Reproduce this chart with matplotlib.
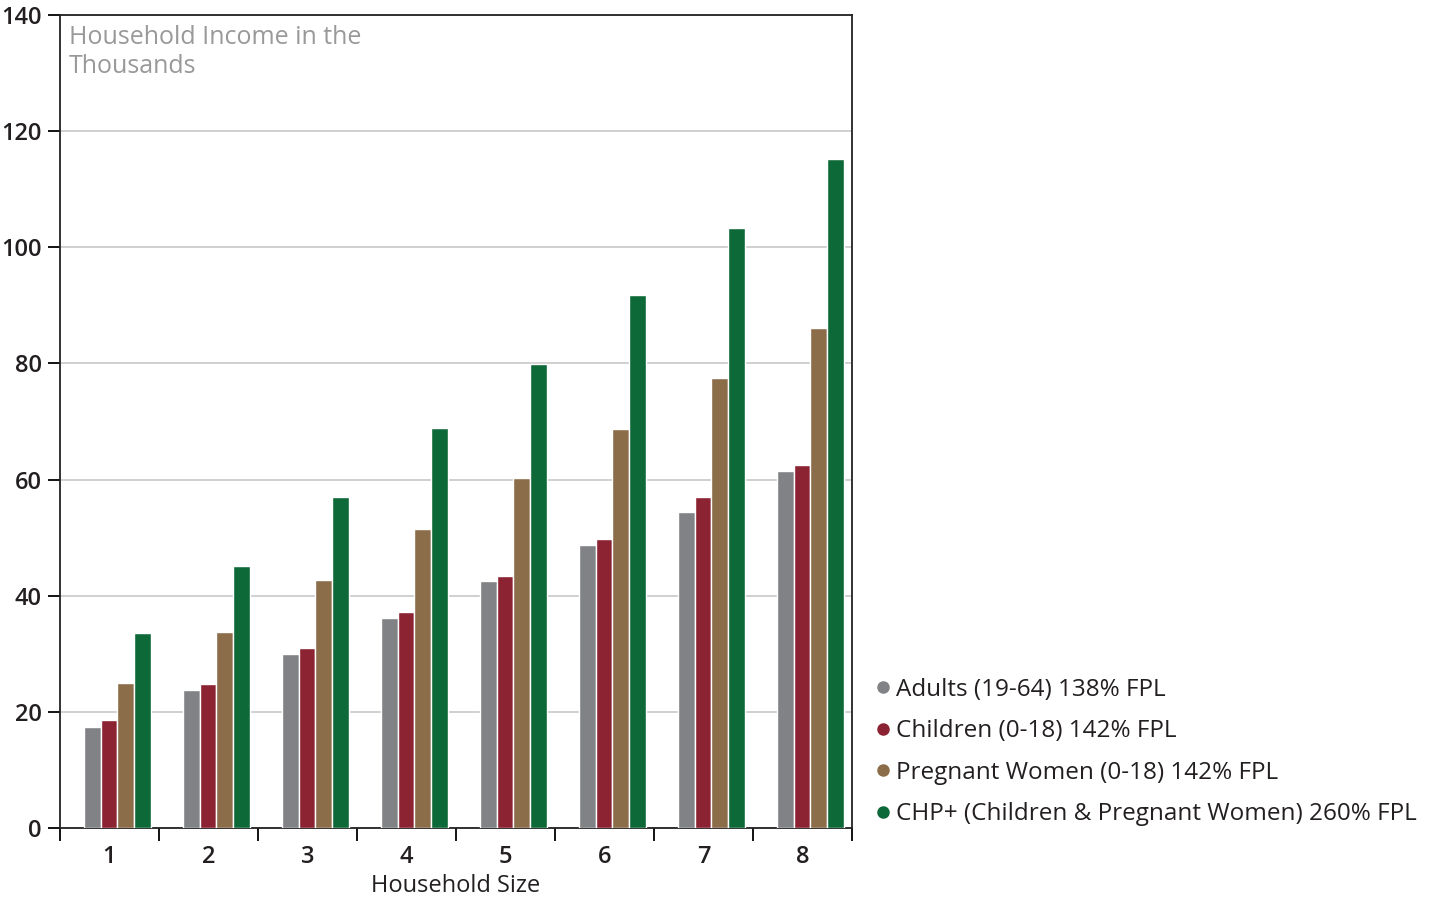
import matplotlib.pyplot as plt
import numpy as np
from matplotlib.lines import Line2D

plt.rcParams['font.family'] = ['Open Sans', 'DejaVu Sans']

household_size = ['1', '2', '3', '4', '5', '6', '7', '8']
series_names = ['Adults (19-64) 138% FPL',
                'Children (0-18) 142% FPL',
                'Pregnant Women (0-18) 142% FPL',
                'CHP+ (Children & Pregnant Women) 260% FPL']
adults = [17.4, 23.8, 30.0, 36.2, 42.5, 48.7, 54.4, 61.5]
children = [18.6, 24.8, 31.0, 37.2, 43.4, 49.8, 57.0, 62.5]
pregnant = [25.0, 33.8, 42.7, 51.5, 60.3, 68.7, 77.5, 86.1]
chp = [33.6, 45.1, 57.0, 68.9, 79.9, 91.8, 103.3, 115.2]
colors = ['#808285', '#8b2332', '#8c6d4a', '#0e6939']
text_col = '#231f20'

fig = plt.figure(figsize=(14.35, 8.99), dpi=100)
ax = fig.add_axes([60 / 1435, 71 / 899, 792 / 1435, 813 / 899])

x = np.arange(len(household_size))
width = 0.168
for i, (vals, col) in enumerate(zip([adults, children, pregnant, chp], colors)):
    ax.bar(x + 0.08 + (i - 1.5) * width, vals, width, color=col,
           edgecolor='white', linewidth=1, zorder=3)

ax.set_xlim(-0.5, 7.5)
ax.set_ylim(0, 140)
ax.set_yticks(range(0, 141, 20))
ax.yaxis.grid(True, color='#c8c8c8', linewidth=1.2, zorder=0)

# ticks between the groups, labels in the middle
ax.set_xticks(np.arange(-0.5, 8, 1))
ax.set_xticklabels([])
ax.set_xticks(x, minor=True)
ax.set_xticklabels(household_size, minor=True, fontweight='semibold')
ax.tick_params(axis='x', which='major', direction='out', length=9, width=1.3)
ax.tick_params(axis='x', which='minor', length=0, pad=12, labelsize=17, labelcolor=text_col)
ax.tick_params(axis='y', direction='out', length=9, width=1.3, labelsize=17,
               labelcolor=text_col, pad=4)
for lbl in ax.get_yticklabels():
    lbl.set_fontweight('semibold')

for s in ax.spines.values():
    s.set_linewidth(1.3)
    s.set_color('#222222')

ax.set_xlabel('Household Size', fontsize=17, fontweight='medium', color=text_col, labelpad=4)
ax.text(0.011, 0.988, 'Household Income in the\nThousands', transform=ax.transAxes,
        ha='left', va='top', fontsize=18, color='#999999', linespacing=1.2)

handles = [Line2D([], [], marker='o', linestyle='', color=c, markersize=8) for c in colors]
leg = fig.legend(handles, series_names, loc='lower left', bbox_to_anchor=(849 / 1435, 51 / 899),
                 frameon=False, fontsize=17.5, handletextpad=0.05, labelspacing=0.72,
                 handlelength=1.0, labelcolor=text_col)
for t in leg.get_texts():
    t.set_fontweight('medium')

fig.savefig('out.png', dpi=100)
